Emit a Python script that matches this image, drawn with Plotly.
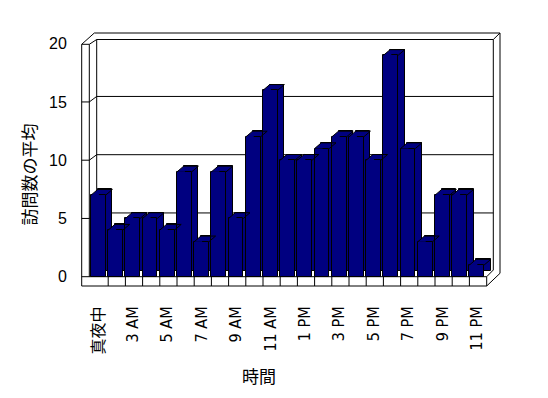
import plotly.graph_objects as go

# ---- data ----
hours = ["真夜中", "2 AM", "3 AM", "4 AM", "5 AM", "6 AM", "7 AM", "8 AM", "9 AM",
         "10 AM", "11 AM", "正午", "1 PM", "2 PM", "3 PM", "4 PM", "5 PM", "6 PM",
         "7 PM", "8 PM", "9 PM", "10 PM", "11 PM"]
visits = [7, 4, 5, 5, 4, 9, 3, 9, 5, 12, 16, 10, 10, 11, 12, 12, 10, 19, 11, 3, 7, 7, 1]
y_ticks = [0, 5, 10, 15, 20]
y_title = "訪問数の平均"
x_title = "時間"

NAVY = "#000080"
# ---- geometry helpers (pixel -> axis units) ----
X0, CW = 91.0, 17.2      # px of left edge of first category, px per category
Y0, UH = 276.7, 11.65    # px of value 0, px per unit


def ax(px):
    return -0.5 + (px - X0) / CW


def ay(py):
    return (Y0 - py) / UH


W = 14.7 / CW     # bar front width
DX = 6.7 / CW     # depth offset x
DY = 5.7 / UH     # depth offset y

xs = list(range(len(hours)))

fig = go.Figure()
# back copies (top / side faces)
fig.add_trace(go.Bar(x=[i + DX for i in xs], y=visits, base=[DY] * len(xs), width=W, offset=-0.5,
                     marker=dict(color=NAVY, line=dict(color="black", width=1)),
                     hoverinfo="skip", showlegend=False))
# front faces
fig.add_trace(go.Bar(x=xs, y=visits, width=W, offset=-0.5,
                     marker=dict(color=NAVY, line=dict(color="black", width=1)),
                     showlegend=False))

# fill the top-left notch of each top face
tx, ty = [], []
ex, ey = [], []
eps = 1.2 / CW
for i, v in zip(xs, visits):
    L = i - 0.5
    R = L + W
    tx += [L, L + DX, L + DX + eps, L + DX + eps, L, None]
    ty += [v, v + DY, v + DY, v, v, None]
    ex += [L, L + DX, R + DX, None, R, R + DX, None]
    ey += [v, v + DY, v + DY, None, v, v + DY, None]
fig.add_trace(go.Scatter(x=tx, y=ty, mode="none", fill="toself", fillcolor=NAVY,
                         hoverinfo="skip", showlegend=False))
fig.add_trace(go.Scatter(x=ex, y=ey, mode="lines", line=dict(color="black", width=1),
                         hoverinfo="skip", showlegend=False))

# ---- frame (walls & floor) ----
shapes = []


def seg(x1, y1, x2, y2):
    shapes.append(dict(type="line", xref="x", yref="y", layer="below",
                       x0=ax(x1), y0=ay(y1), x1=ax(x2), y1=ay(y2),
                       line=dict(color="black", width=1)))


frame = [
    (81.7, 44.3, 81.7, 286), (89.3, 44.3, 89.3, 276.7), (81.7, 44.3, 89.3, 44.3),
    (81.7, 44.3, 94.3, 33), (89.3, 44.3, 96.7, 39.5),
    (96.7, 39.5, 96.7, 271.5), (96.7, 39.5, 493.3, 39.5), (94.3, 33, 500, 33),
    (500, 33, 493.3, 39.5), (493.3, 39.5, 493.3, 270), (500, 33, 500, 273.3),
    (81.7, 276.7, 486.7, 276.7), (81.7, 286, 486.7, 286), (486.7, 276.7, 486.7, 286),
    (486.7, 276.7, 493.3, 270), (486.7, 286, 500, 273.3),
]
for f in frame:
    seg(*f)

# back-wall gridlines and left-wall tick marks
BDY = 5.5 / UH
for t in y_ticks[1:-1]:
    shapes.append(dict(type="line", xref="x", yref="y", layer="below",
                       x0=ax(96.7), x1=ax(493.3), y0=t + BDY, y1=t + BDY,
                       line=dict(color="black", width=1)))
    shapes.append(dict(type="line", xref="x", yref="y", layer="below",
                       x0=ax(81.7), x1=ax(89.3), y0=t, y1=t,
                       line=dict(color="black", width=1)))
    shapes.append(dict(type="line", xref="x", yref="y", layer="below",
                       x0=ax(89.3), x1=ax(96.7), y0=t, y1=t + BDY,
                       line=dict(color="black", width=1)))

# category dividers on floor front face
for k in range(1, len(hours)):
    shapes.append(dict(type="line", xref="x", yref="y", layer="below",
                       x0=k - 0.5, x1=k - 0.5, y0=ay(276.7), y1=ay(286),
                       line=dict(color="black", width=1)))

tick_idx = [0] + list(range(2, len(hours), 2))
tick_font = dict(family="Liberation Sans Narrow, DejaVu Sans Condensed, Liberation Sans, Noto Sans CJK JP",
                 size=16, color="black")

PL, PR, PT, PB = 78, 504, 28, 290
fig.update_layout(
    template="none",
    width=548, height=398,
    margin=dict(l=PL, r=548 - PR, t=PT, b=398 - PB, pad=0),
    paper_bgcolor="white", plot_bgcolor="white",
    barmode="overlay", bargap=0,
    shapes=shapes,
    xaxis=dict(range=[ax(PL), ax(PR)], showgrid=False, zeroline=False, showline=False,
               automargin=False,
               tickmode="array", tickvals=[xs[i] - 0.5 + W / 2 for i in tick_idx],
               ticktext=[hours[i] for i in tick_idx], tickangle=-90,
               ticks="outside", ticklen=9, tickcolor="rgba(0,0,0,0)",
               tickfont=tick_font),
    yaxis=dict(range=[ay(PB), ay(PT)], showgrid=False, zeroline=False, showline=False,
               automargin=False,
               tickmode="array", tickvals=y_ticks, ticktext=[str(t) for t in y_ticks],
               ticks="outside", ticklen=7, tickcolor="rgba(0,0,0,0)",
               tickfont=dict(family="Liberation Sans, Arial", size=16, color="black")),
    annotations=[
        dict(text=y_title, xref="paper", yref="paper", x=(27.5 - PL) / (PR - PL),
             y=(PB - 175) / (PB - PT), xanchor="center", yanchor="middle",
             showarrow=False, textangle=-90,
             font=dict(family="Noto Sans CJK JP", size=17, color="black")),
        dict(text=x_title, xref="paper", yref="paper", x=(259 - PL) / (PR - PL),
             y=(PB - 375) / (PB - PT), xanchor="center", yanchor="middle",
             showarrow=False,
             font=dict(family="Noto Sans CJK JP", size=17, color="black")),
    ],
)

fig.write_html("out.html", config={"displayModeBar": False},
               post_script="document.body.style.margin='0';document.body.style.padding='0';")
